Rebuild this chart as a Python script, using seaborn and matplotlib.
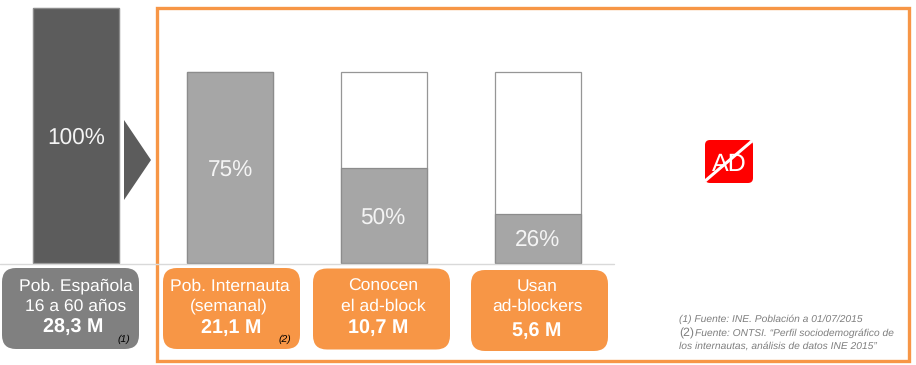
import pandas as pd
import seaborn as sns
from matplotlib import pyplot as plt
from matplotlib.patches import FancyBboxPatch, Polygon, Rectangle

categories = ['Pob. Española', 'Pob. Internauta', 'Conocen', 'Usan']
outline_values = [100, 75, 75, 75]
fill_values = [100, 75, 37.3, 19.2]
percent_labels = ['100%', '75%', '50%', '26%']
box_lines_1 = ['Pob. Española', 'Pob. Internauta', 'Conocen', 'Usan']
box_lines_2 = ['16 a 60 años', '(semanal)', 'el ad-block', 'ad-blockers']
box_totals = ['28,3 M', '21,1 M', '10,7 M', '5,6 M']

GREY_DARK = '#5c5c5c'
GREY_MID = '#A6A6A6'
ORANGE = '#F79646'

sns.set_theme(style='white')
plt.rcParams['font.family'] = ['Liberation Sans', 'DejaVu Sans']
plt.rcParams['text.hinting'] = 'none'

fig = plt.figure(figsize=(9.16, 3.65), dpi=100)
ax = fig.add_axes([0, 0, 1, 1])

df = pd.DataFrame({'category': categories, 'outline': outline_values, 'fill': fill_values})

sns.barplot(data=df, x='category', y='outline', order=categories, color='white',
            width=0.558, edgecolor='#969696', linewidth=0.9, ax=ax)
sns.barplot(data=df, x='category', y='fill', order=categories, hue='category',
            palette=[GREY_DARK, GREY_MID, GREY_MID, GREY_MID], legend=False,
            width=0.558, edgecolor='#8c8c8c', linewidth=0.9, ax=ax)

# one category step is 154 px, 100% is 255 px
ax.set_xlim(-76 / 154, 840 / 154)
ax.set_ylim(-102 / 2.55, 263 / 2.55)
ax.axis('off')

# overlay in pixel coordinates for the boxes and the text
over = fig.add_axes([0, 0, 1, 1], zorder=5)
over.set_xlim(0, 916)
over.set_ylim(365, 0)
over.axis('off')
over.patch.set_alpha(0)

over.plot([0, 614], [263.5, 263.5], color='#d9d9d9', lw=1)
over.add_patch(Rectangle((157, 7.5), 752, 353, fill=False, edgecolor=ORANGE, linewidth=2.4))
over.add_patch(Polygon([(124, 120), (151, 160), (124, 200)], color=GREY_DARK, lw=0))

box_left = [2, 163, 313, 471]
box_top = [268, 268, 268.5, 270]
box_color = ['#808080', ORANGE, ORANGE, ORANGE]
for left, top, color in zip(box_left, box_top, box_color):
    over.add_patch(FancyBboxPatch((left + 14, top + 14), 109, 53,
                                  boxstyle='round,pad=14,rounding_size=14',
                                  facecolor=color, edgecolor='none'))

percent_x = [76, 230, 383, 537]
percent_y = [138, 171, 218, 240]
for x, y, label in zip(percent_x, percent_y, percent_labels):
    over.text(x, y, label, color='#f4f4f4', fontsize=16.3, ha='center', va='center')

line1_x = [76, 230, 383, 537]
line2_x = [76, 229, 383, 537]
total_x = [73, 231, 378, 537]
total_y = [328, 329, 329, 332]
for i in range(4):
    over.text(line1_x[i], 286.5, box_lines_1[i], color='white', fontsize=12.6, ha='center', va='center')
    over.text(line2_x[i], 306.5, box_lines_2[i], color='white', fontsize=12.6, ha='center', va='center')
    over.text(total_x[i], total_y[i], box_totals[i], color='white', fontsize=14.2,
              fontweight='bold', ha='center', va='center')

over.text(124, 339, '(1)', color='black', fontsize=7.5, style='italic', ha='center', va='center')
over.text(285, 339, '(2)', color='black', fontsize=7.5, style='italic', ha='center', va='center')

# AD icon
over.add_patch(FancyBboxPatch((710, 145), 38, 33, boxstyle='round,pad=5,rounding_size=5',
                              facecolor='#FF0000', edgecolor='none'))
over.text(729, 165, 'AD', color='white', fontsize=18, ha='center', va='center')
over.plot([705, 752], [181, 141], color='white', lw=2.2, solid_capstyle='butt')

# sources
over.text(679, 319, '(1) Fuente: INE. Población a 01/07/2015', color='#7f7f7f', fontsize=7.35,
          style='italic', ha='left', va='center')
over.text(679, 333, '(2)', color='#7f7f7f', fontsize=8.8, ha='left', va='center')
over.text(695, 333, 'Fuente: ONTSI. “Perfil sociodemográfico de', color='#7f7f7f', fontsize=7.35,
          style='italic', ha='left', va='center')
over.text(679, 346, 'los internautas, análisis de datos INE 2015”', color='#7f7f7f', fontsize=7.35,
          style='italic', ha='left', va='center')

fig.savefig('out.png', dpi=100, facecolor='white')
